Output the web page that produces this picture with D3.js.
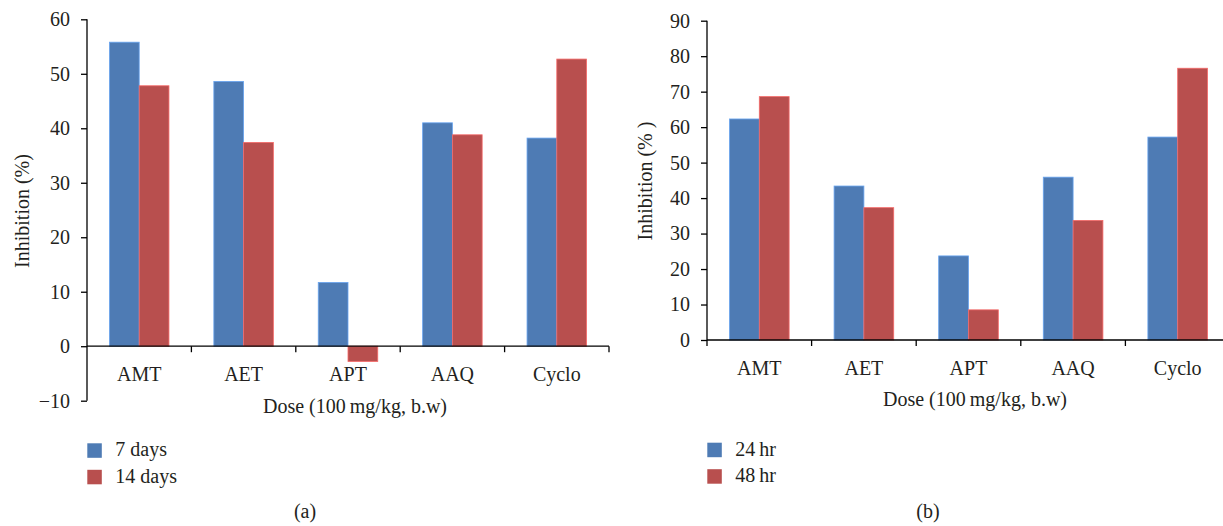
<!DOCTYPE html>
<html>
<head>
<meta charset="utf-8">
<script src="https://cdn.jsdelivr.net/npm/d3@7"></script>
<style>
  html, body { margin: 0; padding: 0; background: #fff; }
  svg { display: block; }
  text { font-family: "Liberation Serif", "DejaVu Serif", serif; fill: #231f20; }
</style>
</head>
<body>
<svg id="chart" width="1223" height="526"></svg>
<script>
// ---- data ----
const categories = ["AMT", "AET", "APT", "AAQ", "Cyclo"];
const seriesA = ["7 days", "14 days"];
const valuesA7 = [55.8, 48.6, 11.7, 41.0, 38.2];
const valuesA14 = [47.8, 37.4, -2.8, 38.8, 52.7];
const ticksA = [-10, 0, 10, 20, 30, 40, 50, 60];

const seriesB = ["24\u2009hr", "48\u2009hr"];
const valuesB24 = [62.3, 43.4, 23.7, 45.9, 57.2];
const valuesB48 = [68.6, 37.3, 8.5, 33.7, 76.6];
const ticksB = [0, 10, 20, 30, 40, 50, 60, 70, 80, 90];

const colors = ["#4e7bb4", "#b84f4e"];
const xTitle = "Dose (100\u2009mg/kg, b.w)";

const svg = d3.select("#chart");

function panel(opt) {
  const g = svg.append("g");
  const x = d3.scaleBand().domain(categories).range([opt.x0, opt.x1])
    .paddingInner(0.43).paddingOuter(0.215);
  const step = x.step();
  const y = d3.scaleLinear().domain(opt.domain).range([opt.yBottom, opt.yTop]);
  const sub = d3.scaleBand().domain([0, 1]).range([0, x.bandwidth()]);

  // bars
  const rows = categories.map((c, i) => ({ c, v: [opt.s1[i], opt.s2[i]] }));
  rows.forEach(r => {
    r.v.forEach((v, k) => {
      g.append("rect")
        .attr("x", x(r.c) + sub(k))
        .attr("width", sub.bandwidth())
        .attr("y", y(Math.max(0, v)))
        .attr("height", Math.abs(y(v) - y(0)))
        .attr("fill", colors[k])
        .attr("stroke", d3.color(colors[k]).brighter(0.8))
        .attr("stroke-width", 0.8);
    });
  });

  // y axis
  const ya = g.append("g").attr("transform", `translate(${opt.x0},0)`)
    .call(d3.axisLeft(y).tickValues(opt.ticks).tickSize(6).tickPadding(11)
      .tickFormat(d => d < 0 ? "\u2212" + Math.abs(d) : d));
  ya.select(".domain").attr("stroke", "#000").attr("stroke-width", 1.3)
    .attr("d", `M0,${y(opt.domain[1])}V${opt.axisBottom}`);
  ya.selectAll(".tick line").attr("stroke", "#000").attr("stroke-width", 1.3);
  ya.selectAll(".tick text").attr("font-size", 20).attr("fill", "#231f20")
    .attr("font-family", "Liberation Serif, serif");
  if (opt.axisBottom > y(opt.domain[0]) - 1) {
    // axis end handled by domain path
  }

  // zero line
  g.append("line").attr("x1", opt.x0).attr("x2", opt.x1)
    .attr("y1", y(0)).attr("y2", y(0)).attr("stroke", "#000").attr("stroke-width", 1.3);
  // category boundary ticks
  const bounds = d3.range(categories.length + 1).map(i => x(categories[0]) - x.paddingOuter() * step + i * step);
  bounds.forEach((bx, i) => {
    if (i === 0 && !opt.firstTick) return;
    g.append("line").attr("x1", bx).attr("x2", bx)
      .attr("y1", y(0)).attr("y2", y(0) + 6).attr("stroke", "#000").attr("stroke-width", 1.3);
  });
  // category labels
  categories.forEach(c => {
    g.append("text").attr("x", x(c) + x.bandwidth() / 2).attr("y", y(0) + 35)
      .attr("text-anchor", "middle").attr("font-size", 20).text(c);
  });
  // titles
  g.append("text").attr("x", opt.xTitleX).attr("y", opt.xTitleY)
    .attr("text-anchor", "middle").attr("font-size", 20).text(xTitle);
  g.append("text").attr("transform", `translate(${opt.yTitleX},${opt.yTitleY}) rotate(-90)`)
    .attr("text-anchor", "middle").attr("font-size", 20).text(opt.yTitle);

  // legend
  opt.series.forEach((s, k) => {
    g.append("rect").attr("x", opt.legX).attr("y", opt.legY + k * 26.5)
      .attr("width", 14.5).attr("height", 14.5).attr("fill", colors[k]);
    g.append("text").attr("x", opt.legX + 28).attr("y", opt.legY + 13 + k * 26.5)
      .attr("font-size", 20).text(s);
  });
  g.append("text").attr("x", opt.labX).attr("y", 518).attr("text-anchor", "middle")
    .attr("font-size", 20).text(opt.lab);
}

panel({
  x0: 87, x1: 609, yTop: 19.3, yBottom: 400.7, domain: [-10, 60], ticks: ticksA,
  axisBottom: 400.7, s1: valuesA7, s2: valuesA14, series: seriesA,
  xTitleX: 355, xTitleY: 413, yTitleX: 29, yTitleY: 211, yTitle: "Inhibition (%)",
  legX: 87.3, legY: 443.3, labX: 305, lab: "(a)", firstTick: false
});
panel({
  x0: 707, x1: 1230, yTop: 20.7, yBottom: 340, domain: [0, 90], ticks: ticksB,
  axisBottom: 346, s1: valuesB24, s2: valuesB48, series: seriesB,
  xTitleX: 975, xTitleY: 406, yTitleX: 652, yTitleY: 181, yTitle: "Inhibition (% )",
  legX: 707.3, legY: 442.7, labX: 928, lab: "(b)", firstTick: false
});
</script>
</body>
</html>
